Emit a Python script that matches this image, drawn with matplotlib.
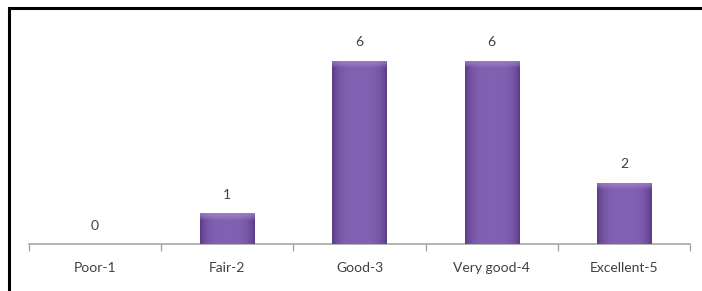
import matplotlib.pyplot as plt
import numpy as np
from matplotlib.patches import Rectangle
from matplotlib.colors import to_rgb

# ratings and number of responses
categories = ["Poor-1", "Fair-2", "Good-3", "Very good-4", "Excellent-5"]
counts = [0, 1, 6, 6, 2]

plt.rcParams['font.family'] = ['Lato', 'DejaVu Sans']

fig = plt.figure(figsize=(7.02, 2.91), dpi=100)
ax = fig.add_axes([29 / 702, 47 / 291, 661 / 702, 214 / 291])

x = np.arange(len(categories))
bars = ax.bar(x, counts, width=0.41, color="#7B56AA", zorder=2)

ax.set_xlim(-0.5, len(categories) - 0.5)
ax.set_ylim(0, 7)

# shaded fill for each bar (lighter middle, darker sides, light top bevel)
edge = np.array(to_rgb("#5C3C88"))
mid = np.array(to_rgb("#8260B2"))
top = np.array(to_rgb("#A68AD0"))
fig.canvas.draw()
for b, c in zip(bars, counts):
    h = b.get_height()
    if h <= 0:
        continue
    bb = b.get_window_extent()
    nx, ny = 60, 300
    t = np.abs(np.linspace(-1, 1, nx))
    w = t ** 4
    row = mid[None, :] * (1 - w[:, None]) + edge[None, :] * w[:, None]
    img = np.repeat(row[None, :, :], ny, axis=0)
    # distance from top in pixels
    dpx = np.linspace(0, bb.height, ny)
    a = np.clip(1 - dpx / 7.0, 0, 1) ** 0.7
    img = img * (1 - a[:, None, None] * 0.75) + top[None, None, :] * a[:, None, None] * 0.75
    im = ax.imshow(img, extent=(b.get_x(), b.get_x() + b.get_width(), 0, h),
                   aspect='auto', zorder=3, interpolation='bilinear')
    im.set_clip_path(b)

for xi, c in zip(x, counts):
    ax.annotate(str(c), (xi, c), xytext=(0, 9), textcoords='offset points',
                ha='center', va='bottom', fontsize=10, color='#404040')

ax.set_xlim(-0.5, len(categories) - 0.5)
ax.set_ylim(0, 7)

for s in ['top', 'right', 'left']:
    ax.spines[s].set_visible(False)
ax.spines['bottom'].set_color('#A6A6A6')
ax.spines['bottom'].set_linewidth(1.2)
ax.set_yticks([])
ax.set_xticks(np.arange(-0.5, len(categories)), minor=False)
ax.set_xticklabels([])
ax.set_xticks(x, minor=True)
ax.set_xticklabels(categories, minor=True)
ax.tick_params(axis='x', which='major', length=5, color='#A6A6A6', width=1)
ax.tick_params(axis='x', which='minor', length=0, pad=13, labelsize=10, labelcolor='#404040')

# outer black frame
fig.patches.append(Rectangle((8.5 / 702, -0.1), 1.2, (291 - 7.5) / 291 + 0.1,
                             transform=fig.transFigure, fill=False,
                             edgecolor='black', linewidth=2.2, zorder=10))

fig.savefig("out.png", dpi=100)
